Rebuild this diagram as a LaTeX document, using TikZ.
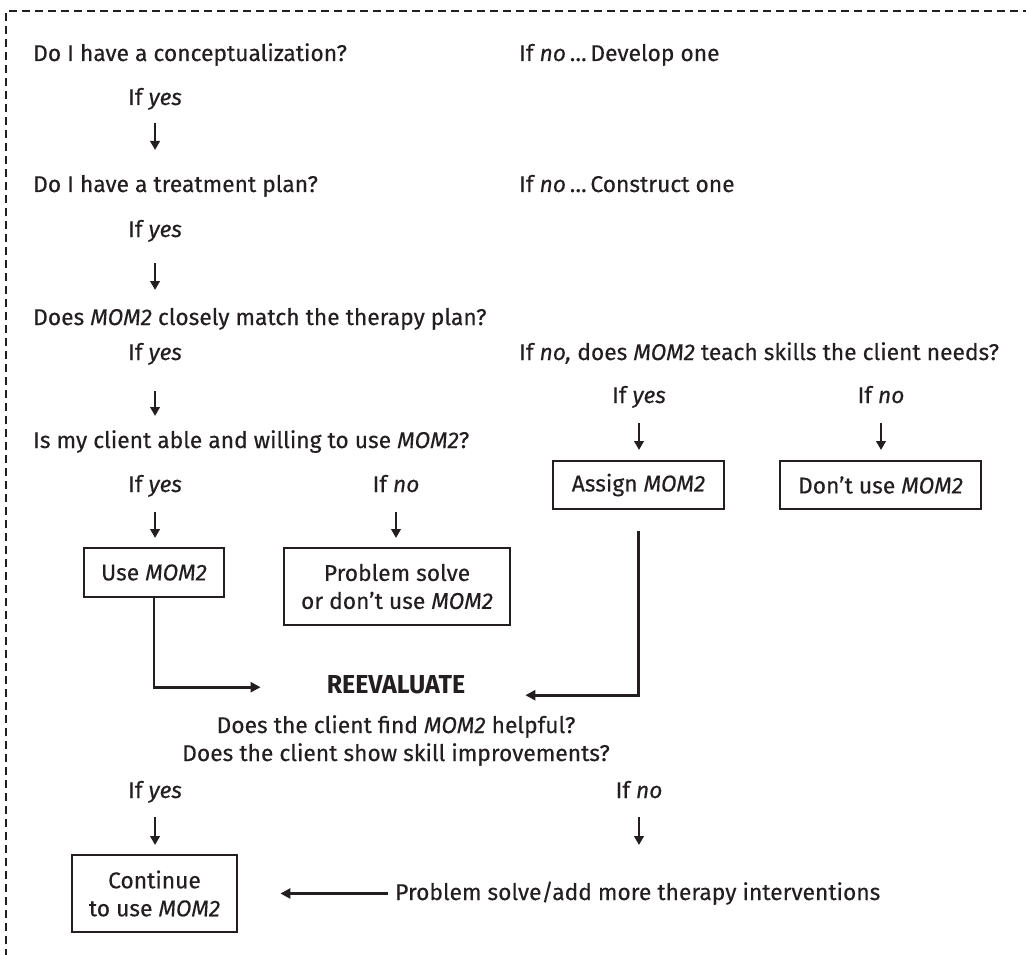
\documentclass[tikz,border=0pt]{standalone}
\usepackage{fontspec}
\setmainfont{Fira Sans}[UprightFeatures={FakeBold=0.3},ItalicFeatures={FakeBold=0.3}]
\usepackage{graphicx}
\usepackage{tikz}
\usetikzlibrary{arrows.meta,positioning,calc}
\definecolor{ink}{HTML}{231F20}
\newcommand{\mom}{\textit{MOM2}}
\newcommand{\bodyfont}{\fontsize{22.8}{28}\selectfont}

\begin{document}
\begin{tikzpicture}[x=1pt, y=-1pt, ink,
    txt/.style={anchor=base west, inner sep=0pt, font=\bodyfont},
    lbl/.style={anchor=base, inner sep=0pt, font=\bodyfont},
    box/.style={draw, line width=2.8pt, inner sep=0pt, align=center, font=\bodyfont},
    arr/.style={-{Triangle[length=9pt,width=9.5pt]}, line width=2.5pt},
    link/.style={-{Triangle[length=10pt,width=10pt]}, line width=2.8pt},
    border/.style={dash pattern=on 8pt off 5pt, line width=2.2pt}]
    \clip (0,0) rectangle (1026,955);

    % Cut line
    \draw [border] (6,970) -- (6,11) -- (1040,11);

    % Conceptualization
    \node [txt] (q1) at (33,61) {Do I have a conceptualization?};
    \node [txt] (n1) at (519,61) {If \textit{no}\,…\,Develop one};
    \node [txt] (y1) at (128,105) {If \textit{yes}};
    \draw [arr] ([yshift=-18pt]y1.base) -- ++(0,27);

    % Treatment plan
    \node [txt] (q2) at (33,192) {Do I have a treatment plan?};
    \node [txt] (n2) at (519,192) {If \textit{no}\,…\,Construct one};
    \node [txt] (y2) at (128,237) {If \textit{yes}};
    \draw [arr] ([yshift=-26pt]y2.base) -- ++(0,27);

    % Match with the plan
    \node [txt] (q3) at (33,325) {Does \mom{} closely match the therapy plan?};
    \node [txt] (y3) at (128,360) {If \textit{yes}};
    \node [txt] (n3) at (519,360) {If \textit{no,} does \mom{} teach skills the client needs?};
    \draw [arr] ([yshift=-31pt]y3.base) -- ++(0,25);

    % Skills branch
    \node [lbl] (yR) at (639,403) {If \textit{yes}};
    \node [lbl] (nR) at (881,403) {If \textit{no}};
    \draw [arr] ([yshift=-20pt]yR.base) -- ++(0,27);
    \draw [arr] ([yshift=-20pt]nR.base) -- ++(0,27);
    \node [box, minimum width=171pt, minimum height=48pt] (assign) at (638.5,485) {Assign \mom};
    \node [box, minimum width=201pt, minimum height=48pt] (dont) at (880.5,485) {Don’t use \mom};

    % Able and willing
    \node [txt] (q4) at (33,448) {Is my client able and willing to use \mom?};
    \node [txt] (y4) at (128,492) {If \textit{yes}};
    \node [lbl] (n4) at (396,492) {If \textit{no}};
    \draw [arr] ([yshift=-20pt]y4.base) -- ++(0,26);
    \draw [arr] ([yshift=-20pt]n4.base) -- ++(0,26);
    \node [box, minimum width=140pt, minimum height=49pt] (use) at (154,572.5) {Use \mom};
    \node [box, minimum width=226pt, minimum height=77pt] (solve) at (397,586.5) {Problem solve\\or don’t use \mom};

    % Reevaluate
    \node [lbl, font=\fontsize{26}{30}\selectfont\bfseries] (re) at (396,693) {\scalebox{0.96}[1]{REEVALUATE}};
    \draw [link] (use.south) |- ([xshift=-66pt,yshift=-3pt]re.west);
    \draw [link] ([yshift=-21pt]assign.south) |- ([xshift=60pt,yshift=-11pt]re.east);
    \node [lbl] (chk1) at (396,733) {Does the client find \mom{} helpful?};
    \node [lbl] (chk2) at (396,761) {Does the client show skill improvements?};

    % Outcome
    \node [txt] (y5) at (128,798) {If \textit{yes}};
    \node [lbl] (n5) at (639,798) {If \textit{no}};
    \draw [arr] ([yshift=-19pt]y5.base) -- ++(0,28);
    \draw [arr] ([yshift=-19pt]n5.base) -- ++(0,28);
    \node [box, minimum width=165pt, minimum height=77pt] (cont) at (154.5,893.5) {Continue\\to use \mom};
    \node [txt] (ps) at (395,900) {Problem solve/add more therapy interventions};
    \draw [link, shorten >=42pt] ([xshift=-7pt]ps.west |- cont.east) -- (cont.east);
\end{tikzpicture}
\end{document}
